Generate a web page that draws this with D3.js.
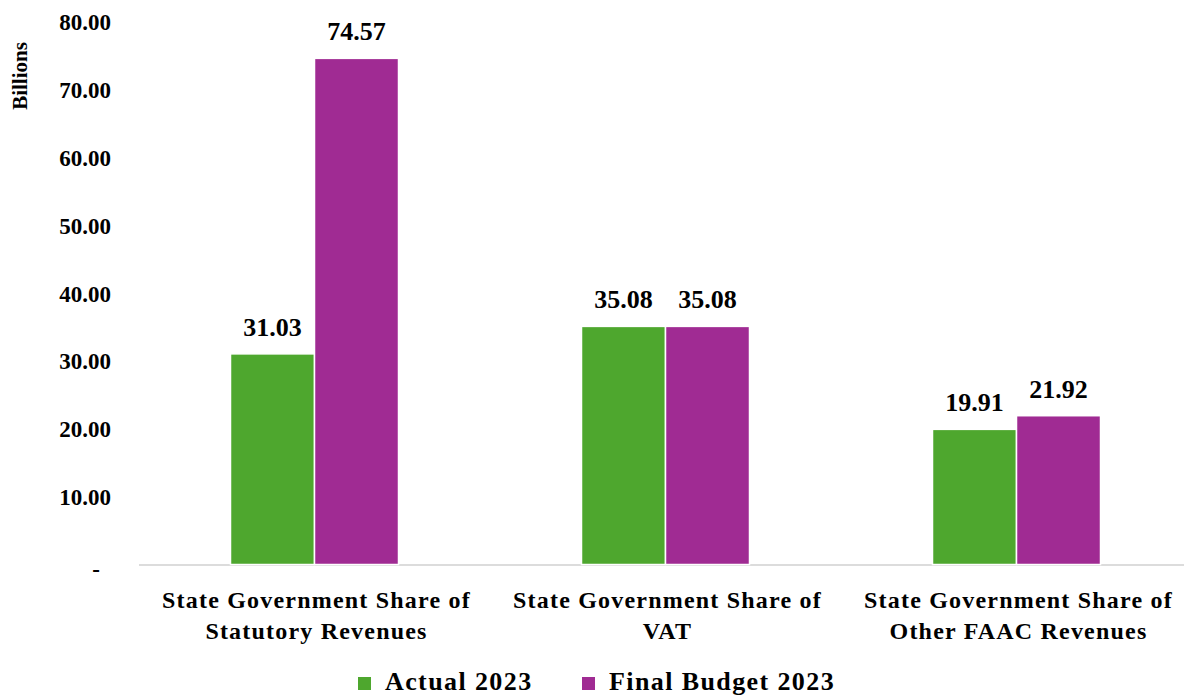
<!DOCTYPE html>
<html><head><meta charset="utf-8">
<script src="https://cdn.jsdelivr.net/npm/d3@7"></script>
<style>body{margin:0;background:#fff}svg{display:block}</style>
</head><body><svg id="c" width="1184" height="697"></svg>
<script>
const categories = [
  ["State Government Share of", "Statutory Revenues"],
  ["State Government Share of", "VAT"],
  ["State Government Share of", "Other FAAC Revenues"]
];
const seriesNames = ["Actual 2023", "Final Budget 2023"];
const actual2023 = [31.03, 35.08, 19.91];
const finalBudget2023 = [74.57, 35.08, 21.92];
const yTicks = [0, 10, 20, 30, 40, 50, 60, 70, 80];
const colors = ["#4EA72E", "#A02B93"];

const FONT = "'Liberation Serif', 'DejaVu Serif', serif";
const svg = d3.select("#c");
const keys = categories.map((c, i) => i);
const x = d3.scaleBand().domain(keys).range([139, 1192]);
const x1 = d3.scaleBand().domain([0, 1]).range([0, 168]);
const y = d3.scaleLinear().domain([0, 80]).range([564.5, 21.5]);
const series = [actual2023, finalBudget2023];

function st(sel, size) {
  return sel.style("font-family", FONT).style("font-weight", "bold").style("font-size", size + "px").style("fill", "#000");
}

const yAxis = d3.axisLeft(y).tickValues(yTicks).tickSize(0).tickPadding(0)
  .tickFormat(d => d === 0 ? "-" : d3.format(".2f")(d));
const ga = svg.append("g").attr("transform", "translate(111,0)").call(yAxis);
ga.select(".domain").remove();
st(ga.selectAll("text"), 23).attr("dy", "0.35em");
ga.selectAll(".tick").filter(d => d === 0).select("text").attr("dx", -11).attr("dy", "0.5em");

st(svg.append("text").attr("transform", "translate(27,76) rotate(-90)")
  .attr("text-anchor", "middle").text("Billions"), 21);

svg.append("line").attr("x1", 139).attr("x2", 1184).attr("y1", y(0) + 0.5).attr("y2", y(0) + 0.5)
  .attr("stroke", "#d0d0d0").attr("stroke-width", 1.5);

series.forEach((vals, s) => {
  svg.append("g").selectAll("rect").data(vals).join("rect")
    .attr("x", (d, i) => x(i) + x.bandwidth() / 2 - 84 + x1(s))
    .attr("width", x1.bandwidth())
    .attr("y", d => y(d))
    .attr("height", d => y(0) - y(d))
    .attr("fill", colors[s]).attr("stroke", "#fff").attr("stroke-width", 1.5);
  st(svg.append("g").selectAll("text").data(vals).join("text")
    .attr("x", (d, i) => x(i) + x.bandwidth() / 2 - 84 + x1(s) + x1.bandwidth() / 2)
    .attr("y", d => y(d) - 18)
    .attr("text-anchor", "middle")
    .text(d => d3.format(".2f")(d)), 26);
});

const cg = st(svg.append("g").selectAll("text").data(categories).join("text")
  .attr("x", (d, i) => x(i) + x.bandwidth() / 2 + 2)
  .attr("y", 608).attr("text-anchor", "middle"), 24)
  .attr("letter-spacing", 1.2);
cg.selectAll("tspan").data(d => d).join("tspan")
  .attr("x", function () { return d3.select(this.parentNode).attr("x"); })
  .attr("dy", (d, i) => i === 0 ? 0 : 31).text(d => d);

const legX = [358, 582];
seriesNames.forEach((n, i) => {
  svg.append("rect").attr("x", legX[i]).attr("y", 677).attr("width", 13).attr("height", 13).attr("fill", colors[i]);
  st(svg.append("text").attr("x", legX[i] + 27).attr("y", 690).attr("letter-spacing", 1.4).text(n), 26);
});
</script></body></html>
